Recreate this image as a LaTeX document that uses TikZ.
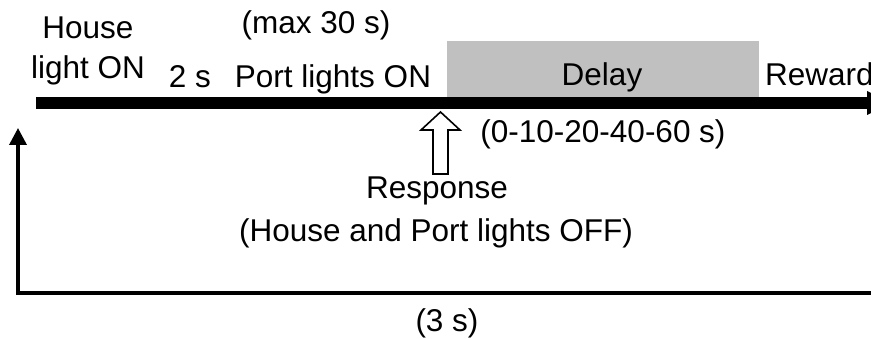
\documentclass[tikz,border=0pt]{standalone}
\usepackage{fontspec}
\setmainfont{Liberation Sans}
\usetikzlibrary{arrows.meta}
\definecolor{delaygray}{HTML}{C0C0C0}
\tikzset{
  lbl/.style={inner sep=0pt, anchor=base, font=\fontsize{31.5}{37}\selectfont},
  lblw/.style={lbl, anchor=base west},
  thinline/.style={line width=3.5pt},
}
\begin{document}
\begin{tikzpicture}[x=1pt, y=-1pt]
  \useasboundingbox (0,0) rectangle (871,339);
  \clip (0,0) rectangle (871,339);

  % delay interval shading
  \fill[delaygray] (447,41) rectangle (759,97);

  % time line with its arrowhead
  \coordinate (tstart) at (36,103);
  \coordinate (tend) at (867,103);
  \fill (36,97) rectangle (867,109);
  \fill (867,91) -- (891,103) -- (867,115) -- cycle;

  % return path back to the start of the trial
  \coordinate (rb) at (880,293);
  \coordinate (lb) at (18,293);
  \coordinate (lt) at (18,128);
  \draw[thinline] (rb) -- (lb);
  \draw[thinline, -{Triangle[width=17pt,length=17pt]}] ([yshift=-1.75pt]lb) -- (lt);

  % response arrow (hollow)
  \draw[line width=1.6pt, fill=white]
    (440.5,112) -- (460,130) -- (448,130) -- (448,174) -- (433,174)
    -- (433,130) -- (421,130) -- cycle;
  \coordinate (resp) at (440.5,174);

  % labels
  \node[lbl] (house) at (88,39) {House};
  \node[lbl] (houseon) at (88,79) {light ON};
  \node[lbl] (maxt) at (316,34) {(max 30 s)};
  \node[lbl] (twos) at (190,88) {2 s};
  \node[lbl] (porton) at (333,88) {Port lights ON};
  \node[lbl] (delay) at (602,86) {Delay};
  \node[lblw] (reward) at (765,86) {Reward};
  \node[lbl] (delays) at (603,143) {(0-10-20-40-60 s)};
  \node[lbl] (response) at (437,199) {Response};
  \node[lbl] (lightsoff) at (436,242) {(House and Port lights OFF)};
  \node[lbl] (iti) at (447,332) {(3 s)};
\end{tikzpicture}
\end{document}
